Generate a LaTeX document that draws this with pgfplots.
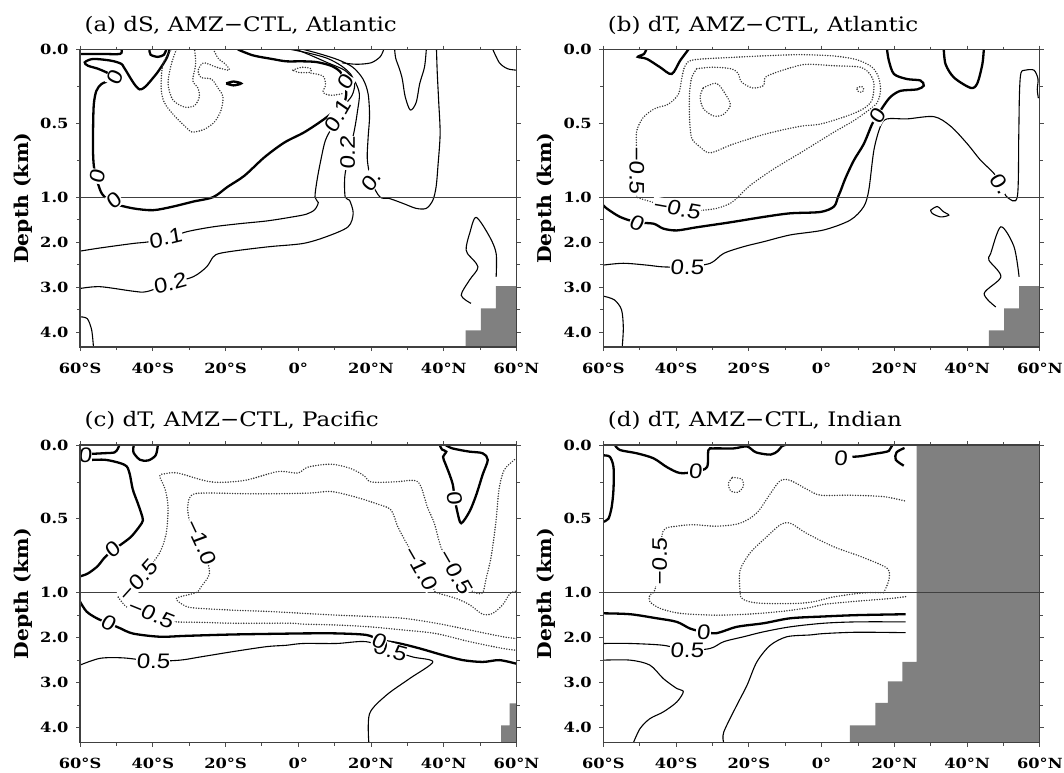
\documentclass[border=0pt]{standalone}
\usepackage{fontspec}
\setmainfont{DejaVu Serif}[FakeStretch=1.07]
\newfontfamily\titlefont{DejaVu Serif}[FakeStretch=1.15]
\newfontfamily\tickfont{DejaVu Serif}[FakeStretch=1.16]
\newfontfamily\clfont{Liberation Sans}[FakeStretch=1.15, FakeSlant=0.08]
\usepackage{pgfplots}
\pgfplotsset{compat=1.18}
\tikzset{clab/.style={font=\clfont\fontsize{21}{23}\selectfont, fill=white, inner sep=0.5pt}}
\pgfplotsset{
  panel/.style={
    scale only axis, width=436.5pt, height=297.5pt,
    xmin=-60, xmax=60, ymin=0, ymax=4.33, y dir=reverse,
    y coord trafo/.code={\pgfmathparse{min(##1,1)+0.305*max(##1-1,0)}},
    xtick={-60,-40,-20,0,20,40,60},
    xticklabels={60°S,40°S,20°S,0°,20°N,40°N,60°N},
    minor xtick={-50,-30,-10,10,30,50},
    ytick={0,0.5,1,2,3,4},
    yticklabels={0.0,0.5,1.0,2.0,3.0,4.0},
    minor ytick={0.25,0.75,1.5,2.5,3.5},
    tick align=outside, xtick pos=both, ytick pos=both,
    xticklabel pos=left, yticklabel pos=left,
    major tick length=4pt, minor tick length=3pt,
    every tick/.append style={black!70, line width=0.8pt},
    axis line style={black!75, line width=1.3pt},
    axis on top=true,
    tick label style={font=\tickfont\bfseries\fontsize{14}{16}\selectfont},
    xticklabel style={yshift=-8pt},
    yticklabel style={xshift=-4pt},
    ylabel={Depth (km)},
    ylabel style={at={(axis description cs:-0.1306,0.5)}, anchor=center, font=\bfseries\fontsize{19}{21}\selectfont},
    every axis title shift=0pt,
    title style={at={(axis description cs:0,1)}, anchor=base west, yshift=18.5pt, xshift=1pt, font=\titlefont\fontsize{20}{22}\selectfont},
  },
  thk/.style={black, line width=2.3pt, smooth, tension=0.5, no markers},
  thn/.style={black, line width=1.1pt, smooth, tension=0.5, no markers},
  dtd/.style={black!80, line width=1.6pt, line cap=round, dash pattern=on 0pt off 2.6pt, smooth, tension=0.5, no markers},
  land/.style={fill=gray, draw=none, no markers},
  oneline/.style={black!75, line width=1.2pt, no markers},
}
\begin{document}
\begin{tikzpicture}
\useasboundingbox (0pt,0pt) rectangle (1064pt,-772pt);

% ---------------- (a) ----------------
\begin{axis}[panel, at={(80pt,-49.5pt)}, anchor=north west, title={(a) dS, AMZ−CTL, Atlantic}]
\addplot[land] coordinates {(46,4.33)(46,3.96)(50.2,3.96)(50.2,3.47)(54.3,3.47)(54.3,2.98)(60,2.98)(60,4.33)};
\addplot[thk] coordinates {(-16.6,0)(-12.4,0.04)(-7,0.065)(-3.3,0.08)(1,0.08)(5,0.085)(9,0.11)(11.5,0.15)(13,0.22)(13.2,0.30)(12.7,0.36)(11.8,0.38)(7.2,0.47)(1.7,0.56)(-3.8,0.63)(-9.3,0.73)(-14.8,0.855)(-19.4,0.93)(-23.4,1.0)(-28.9,1.10)(-34.4,1.21)(-39.9,1.29)(-45.4,1.25)(-50.8,1.14)(-53.2,1.0)(-54.5,0.95)(-56,0.82)(-56.4,0.71)(-56.4,0.53)(-56.2,0.37)(-55.5,0.28)(-54.1,0.234)(-51.9,0.21)(-50.5,0.19)};
\addplot[thk] coordinates {(-50.5,0.19)(-52.3,0.16)(-55.1,0.13)(-57.8,0.11)(-58.7,0.087)(-56.4,0.064)(-51.4,0.076)(-48.6,0.098)(-47.7,0.13)(-43.6,0.27)(-39.5,0.18)(-36.3,0.064)(-35.4,0)};
\addplot[thk] coordinates {(-60,0.03)(-54,0.03)(-49,0.03)(-48.6,0)};
\addplot[thk] coordinates {(-40.9,0)(-40.6,0.035)(-38.6,0.05)(-36.9,0.035)(-36.3,0)};
\addplot[thk] coordinates {(-19.8,0.23)(-17.8,0.217)(-15.7,0.23)(-17.8,0.243)(-19.8,0.23)};
\addplot[thn] coordinates {(-2,0)(3,0.025)(8,0.06)(11.8,0.11)(14.5,0.17)(15.5,0.24)(14.8,0.31)(13,0.37)(11.2,0.44)(9.2,0.53)(7.4,0.62)(6.2,0.75)(5.2,0.88)(4.6,1.0)(5.5,1.12)(4.5,1.28)(2.2,1.38)(-2.3,1.45)(-8.7,1.53)(-16.1,1.59)(-23.4,1.66)(-30.7,1.77)(-36.5,1.93)(-41.7,2.0)(-45.4,2.03)(-54.5,2.13)(-60,2.2)};
\addplot[thn] coordinates {(-0.5,0)(3.5,0.04)(8.1,0.09)(12.7,0.14)(15.4,0.21)(16.8,0.30)(16.3,0.415)(15.4,0.55)(14,0.7)(12.8,0.86)(12.9,1.0)(14.1,1.07)(15.1,1.36)(13.7,1.66)(7.7,1.88)(1.3,2.03)(-7.8,2.10)(-16.1,2.18)(-21.6,2.25)(-23.4,2.33)(-25.2,2.55)(-28.9,2.77)(-35.3,2.92)(-41.7,3.10)(-45.4,3.09)(-54.5,2.99)(-60,3.03)};
\addplot[thn] coordinates {(1.5,0)(6,0.03)(11,0.07)(15,0.12)(17.8,0.2)(19.2,0.3)(19.6,0.45)(19.2,0.6)(19,0.75)(20.2,0.9)(22.5,1.0)(25,1.03)(28.8,1.14)(32.4,1.25)(35.2,1.25)(37,1.07)(37.9,0.93)(38.4,0.79)(39,0.57)(38.6,0.35)(38.2,0.15)(38,0)};
\addplot[thn] coordinates {(12,0.09)(16,0.1)(20,0.09)(22.5,0.05)(23.5,0)};
\addplot[thn] coordinates {(26.5,0)(26.8,0.06)(27.8,0.13)(28.6,0.2)(29.4,0.32)(30.8,0.41)(32.4,0.36)(33.4,0.23)(34.7,0.12)(35.2,0)};
\addplot[thn] coordinates {(53.5,0)(55.3,0.09)(57.5,0.13)(60,0.14)};
\addplot[thn] coordinates {(47.5,3.36)(44.8,3.18)(47.1,2.84)(49.4,2.55)(46.5,2.25)(46.2,2.10)(47.1,1.81)(48.9,1.45)(52.6,1.88)(54.4,2.25)(54.4,2.77)};
\addplot[thn] coordinates {(-60,3.66)(-58,3.70)(-56.8,3.95)(-56.3,4.33)};
\addplot[dtd] coordinates {(-34.9,0)(-37.2,0.1)(-37.7,0.26)(-36.8,0.36)(-34,0.45)(-30.3,0.54)(-29,0.56)(-25.8,0.54)(-23,0.49)(-21.2,0.41)(-20.7,0.32)(-22.1,0.26)(-23.9,0.2)(-26.7,0.19)(-27.5,0.14)(-26,0.09)(-22.5,0.12)(-19,0.14)(-20,0.1)(-22,0.06)(-23.3,0)};
\addplot[dtd] coordinates {(-33.5,0)(-34.9,0.1)(-35.8,0.23)(-34.5,0.34)(-31.3,0.39)(-28.5,0.38)(-27.2,0.32)(-27.6,0.26)(-29,0.21)(-28.2,0.1)(-28.5,0)};
\addplot[dtd] coordinates {(-1.5,0.14)(1,0.12)(3.5,0.13)(3,0.155)(0,0.155)(-1.5,0.14)};
\addplot[dtd] coordinates {(3.5,0.16)(6.8,0.18)(7.5,0.24)(6.8,0.29)(9,0.31)(12,0.30)};
\addplot[oneline] coordinates {(-60,1)(60,1)};
\node[clab, rotate=60] at (axis cs:13.1,0.22) {0};
\node[clab, rotate=60] at (axis cs:10.8,0.45) {0.1};
\node[clab, rotate=90] at (axis cs:13.6,0.70) {0.2};
\node[clab, rotate=55] at (axis cs:20.0,0.89) {0.};
\node[clab, rotate=70] at (axis cs:-50.5,0.19) {0};
\node[clab, rotate=80] at (axis cs:-55.2,0.86) {0};
\node[clab, rotate=40] at (axis cs:-50.6,1.08) {0};
\node[clab, rotate=14] at (axis cs:-36.5,1.91) {0.1};
\node[clab, rotate=15] at (axis cs:-35.3,2.92) {0.2};
\end{axis}

% ---------------- (b) ----------------
\begin{axis}[panel, at={(603.3pt,-49.5pt)}, anchor=north west, title={(b) dT, AMZ−CTL, Atlantic}]
\addplot[land] coordinates {(46,4.33)(46,3.96)(50.2,3.96)(50.2,3.47)(54.3,3.47)(54.3,2.98)(60,2.98)(60,4.33)};
\addplot[thk] coordinates {(-48.2,0)(-48.8,0.03)(-50.5,0.05)(-48,0.064)(-44.4,0.12)(-41.2,0.166)(-38.9,0.076)(-36.6,0)};
\addplot[thk] coordinates {(18,0)(18.5,0.075)(19.9,0.166)(23.5,0.2)(27.2,0.21)(28.1,0.245)(26.3,0.27)(21.7,0.28)(19,0.32)(17.1,0.38)(15.3,0.45)(13.9,0.505)(11.6,0.64)(8.9,0.75)(6.6,0.87)(5.2,0.96)(4.5,1.0)(3.4,1.21)(-0.3,1.33)(-8.6,1.36)(-15.9,1.44)(-25.1,1.56)(-34.3,1.67)(-39.8,1.74)(-43.5,1.70)(-46.2,1.59)(-50.8,1.56)(-55.4,1.44)(-59.1,1.25)(-60,1.18)};
\addplot[thk] coordinates {(33.6,0)(34.1,0.1)(36.4,0.19)(41,0.26)(42.8,0.23)(44.2,0.1)(44.6,0)};
\addplot[thn] coordinates {(-60,2.51)(-54.5,2.47)(-48.1,2.51)(-43.5,2.55)(-37,2.55)(-30.6,2.47)(-26.9,2.25)(-21.4,2.10)(-15.9,1.99)(-8.6,1.84)(0.6,1.73)(7.9,1.51)(11.6,1.21)(13,0.95)(14.4,0.68)(16.2,0.52)(18,0.47)(23.5,0.47)(30.9,0.455)(35.5,0.52)(40.1,0.64)(43.7,0.75)(47.4,0.84)(49.5,0.93)(51,1.0)(53.8,1.0)(54.2,0.6)(54.4,0.3)(54.8,0.16)(56,0.14)(58.4,0.14)(59.5,0.2)(59.3,0.27)(59.6,0.33)};
\addplot[thn] coordinates {(30,1.29)(31.8,1.21)(33.6,1.33)(35,1.40)(32.7,1.44)(30.4,1.36)(30,1.29)};
\addplot[thn] coordinates {(47.9,3.44)(44.7,3.14)(49.3,2.77)(46,2.4)(46.5,2.25)(49.3,1.66)(52.9,2.10)(54.3,2.77)};
\addplot[thn] coordinates {(-60,3.2)(-57,3.28)(-55,3.5)(-54.5,3.9)(-54.8,4.33)};
\addplot[dtd] coordinates {(-50.8,1.0)(-50.9,0.66)(-50.8,0.55)(-49,0.46)(-45.8,0.40)(-42.1,0.37)(-39.3,0.30)(-38.4,0.19)(-37.5,0.11)(-35.2,0.07)(-24.2,0.053)(-15,0.042)(-5.8,0.035)(3.4,0.044)(9.8,0.07)(13.9,0.12)(15.7,0.19)(16.2,0.28)(15.3,0.36)(13,0.41)(9,0.48)(3.4,0.56)(-1.2,0.63)(-5.8,0.70)(-13.2,0.81)(-19.6,0.92)(-23,1.0)(-25.1,1.14)(-28.8,1.25)(-32.5,1.29)(-34.3,1.30)(-39.8,1.27)(-45.8,1.13)(-49.9,1.03)(-50.8,1.0)};
\addplot[dtd] coordinates {(-34.3,0.13)(-30,0.12)(-25,0.13)(-23,0.16)(-22,0.22)(-19,0.26)(-16,0.245)(-15.5,0.19)(-13,0.16)(-8,0.12)(-4,0.1)(3.4,0.11)(10.7,0.12)(13.4,0.17)(14.4,0.23)(13.9,0.34)(11.6,0.40)(7,0.45)(-0.3,0.505)(-5.8,0.52)(-15,0.57)(-24.2,0.64)(-30.6,0.70)(-33.4,0.66)(-35.7,0.6)(-36.3,0.46)(-36.3,0.30)(-35.7,0.19)(-34.3,0.13)};
\addplot[dtd] coordinates {(-32.5,0.26)(-28.8,0.23)(-26,0.32)(-25.1,0.38)(-27,0.44)(-29.7,0.45)(-32.5,0.40)(-33.4,0.32)(-32.5,0.26)};
\addplot[dtd] coordinates {(9.8,0.26)(11,0.25)(11.6,0.27)(11,0.29)(9.8,0.28)(9.8,0.26)};
\addplot[oneline] coordinates {(-60,1)(60,1)};
\node[clab, rotate=-90] at (axis cs:-50.8,0.82) {−0.5};
\node[clab, rotate=-10] at (axis cs:-39.8,1.25) {−0.5};
\node[clab, rotate=-20] at (axis cs:-50.8,1.58) {0};
\node[clab] at (axis cs:-37,2.55) {0.5};
\node[clab, rotate=60] at (axis cs:15.3,0.45) {0};
\node[clab, rotate=-55] at (axis cs:49.2,0.91) {0.};
\end{axis}

% ---------------- (c) ----------------
\begin{axis}[panel, at={(80pt,-445pt)}, anchor=north west, title={(c) dT, AMZ−CTL, Pacific}]
\addplot[land] coordinates {(55.8,4.33)(55.8,3.95)(58.1,3.95)(58.1,3.46)(60,3.46)(60,4.33)};
\addplot[thk] coordinates {(-56.8,0.06)(-53,0.055)(-50.5,0.05)(-49.6,0.025)(-49.2,0)};
\addplot[thk] coordinates {(-45.2,0)(-45.3,0.05)(-43.5,0.1)(-41.3,0.105)(-39.2,0.07)(-38.6,0)};
\addplot[thk] coordinates {(-60,0.106)(-53.2,0.10)(-47.7,0.135)(-46.4,0.19)(-45.5,0.30)(-44.1,0.395)(-43.2,0.46)(-42.7,0.51)(-43.6,0.55)(-45.9,0.62)(-48.5,0.67)(-50.9,0.71)(-53.5,0.77)(-55.1,0.82)(-57.8,0.87)(-60,0.89)};
\addplot[thk] coordinates {(-60,1.2)(-58.2,1.42)(-55.4,1.57)(-52.2,1.68)(-49,1.79)(-45.4,1.91)(-38,1.98)(-30.7,1.96)(-17.9,1.93)(-2.3,1.91)(1.3,1.906)(10.5,1.906)(18.7,1.94)(22.4,2.05)(27.9,2.13)(33.4,2.24)(39.8,2.39)(45.3,2.50)(50.7,2.54)(55.3,2.50)(60,2.58)};
\addplot[thk] coordinates {(38.9,0)(39.5,0.03)(40.7,0.045)(39.8,0.08)(40.5,0.13)(41.6,0.2)(42.5,0.27)(43,0.36)(43.8,0.46)(44.8,0.53)(47.1,0.45)(48.9,0.34)(50.7,0.2)(52.1,0.10)(50.7,0.056)(47.1,0.045)(44.5,0.034)(42,0.02)(40.5,0)};
\addplot[thn] coordinates {(-60,2.61)(-54.5,2.46)(-48.1,2.45)(-39.9,2.52)(-32.5,2.50)(-27,2.43)(-17.9,2.31)(-8.7,2.2)(-3.3,2.17)(1.3,2.13)(10.5,2.13)(18.7,2.09)(25.5,2.28)(31.5,2.43)(37,2.54)(30.6,2.91)(24.2,3.28)(19.6,3.69)(19.4,4.33)};
\addplot[dtd] coordinates {(-49.5,1.1)(-47.5,1.0)(-45.3,0.88)(-41,0.82)(-38.1,0.73)(-36.3,0.6)(-35.8,0.42)(-36.6,0.30)(-38.1,0.21)(-36.7,0.195)(-33.1,0.19)(-23.9,0.25)(-14.8,0.24)(-5.6,0.18)(-0.1,0.19)(2.6,0.15)(9,0.13)(14.5,0.16)(18.2,0.21)(20,0.25)(26.4,0.25)(31.9,0.24)(33.7,0.28)(35.5,0.42)(37.4,0.53)(39.2,0.69)(41.5,0.80)(43.5,0.87)(46,0.95)(48.5,1.0)(50.7,1.0)(51.6,0.91)(53,0.76)(54.3,0.53)(55.2,0.3)(56.6,0.17)(59.4,0.10)(60,0.09)};
\addplot[dtd] coordinates {(60,2.02)(56.2,1.98)(47.1,1.83)(37.9,1.68)(28.8,1.57)(19.6,1.53)(10.5,1.50)(1.3,1.46)(-7.8,1.42)(-17.9,1.39)(-27,1.35)(-30.7,1.31)(-33.5,1.13)(-28.1,1.0)(-26.7,0.96)(-24.4,0.87)(-25.5,0.75)(-27.5,0.62)(-29.9,0.51)(-30.4,0.42)(-29.9,0.36)(-28.5,0.33)(-23.9,0.325)(-14.8,0.33)(-5.6,0.33)(3.5,0.325)(9,0.315)(15.4,0.35)(21.8,0.40)(25.5,0.44)(27.3,0.55)(29.2,0.64)(31,0.72)(34,0.87)(37.4,0.98)(38,1.0)(43.4,1.13)(47.1,1.27)(50.7,1.48)(53.5,1.46)(56.2,1.27)(57.6,1.09)(58.5,1.0)(60,0.99)};
\addplot[dtd] coordinates {(-49.5,1.1)(-47.5,1.3)(-45,1.4)(-41.2,1.48)(-37,1.6)(-33.5,1.65)(-27,1.66)(-17.9,1.68)(-2.3,1.68)(1.3,1.70)(10.5,1.72)(19.6,1.76)(28.8,1.83)(37.9,1.91)(47.1,2.09)(56.2,2.24)(60,2.28)};
\addplot[oneline] coordinates {(-60,1)(60,1)};
\node[clab] at (axis cs:-58.6,0.07) {0};
\node[clab, rotate=42] at (axis cs:-50.9,0.71) {0};
\node[clab, rotate=48] at (axis cs:-44.0,0.92) {−0.5};
\node[clab, rotate=-65] at (axis cs:-26.7,0.655) {−1.0};
\node[clab, rotate=-60] at (axis cs:33.7,0.835) {−1.0};
\node[clab, rotate=-60] at (axis cs:43.2,0.86) {−0.5};
\node[clab, rotate=-80] at (axis cs:42.9,0.36) {0};
\node[clab, rotate=-22] at (axis cs:-40.5,1.47) {−0.5};
\node[clab, rotate=-25] at (axis cs:-52.2,1.68) {0};
\node[clab, rotate=-15] at (axis cs:25.2,2.28) {0.5};
\node[clab, rotate=-20] at (axis cs:22.2,2.08) {0};
\node[clab] at (axis cs:-39.9,2.52) {0.5};
\end{axis}

% ---------------- (d) ----------------
\begin{axis}[panel, at={(603.3pt,-445pt)}, anchor=north west, title={(d) dT, AMZ−CTL, Indian}]
\addplot[land] coordinates {(7.8,4.33)(7.8,3.95)(14.8,3.95)(14.8,3.45)(18.2,3.45)(18.2,2.97)(22.2,2.97)(22.2,2.54)(26.1,2.54)(26.1,0)(60,0)(60,4.33)};
\addplot[thk] coordinates {(-60,0.07)(-58.2,0.08)(-57.2,0.15)(-57.2,0.3)(-57.7,0.42)(-58.6,0.5)(-60,0.52)};
\addplot[thk] coordinates {(-56.8,0)(-55.4,0.034)(-50.8,0.056)(-46.2,0.09)(-42.5,0.15)(-38.9,0.19)(-34.7,0.18)(-31.5,0.15)(-31.1,0.034)(-29.7,0.023)(-24.2,0.023)(-20.5,0.01)(-18,0.05)(-14,0.065)(-12,0.04)(-11,0.01)(-10,0)};
\addplot[thk] coordinates {(8.5,0.08)(11,0.075)(14.4,0.06)(17,0.05)(18.5,0.04)(19,0.02)(19.5,0)};
\addplot[thk] coordinates {(22.8,0.02)(20.6,0.05)(20.4,0.1)(22.6,0.14)};
\addplot[thk] coordinates {(-60,1.46)(-52.6,1.48)(-45.3,1.57)(-39.8,1.65)(-36.1,1.8)(-32.5,1.87)(-28.8,1.9)(-23.3,1.76)(-15.9,1.68)(-8.6,1.57)(0.6,1.53)(9.8,1.50)(23.1,1.48)};
\addplot[thn] coordinates {(-60,2.13)(-52.6,2.13)(-43.5,2.17)(-37,2.28)(-30.6,2.24)(-26.9,2.09)(-21.4,1.98)(-15.9,1.87)(-8.6,1.76)(0.6,1.68)(9.8,1.65)(23.1,1.65)};
\addplot[thn] coordinates {(-26.9,4.33)(-26.9,4.1)(-23.3,3.5)(-20.5,3.06)(-17.8,2.54)(-14.1,2.17)(-9.5,1.98)(-3.1,1.94)(0.6,1.91)(9.8,1.88)(23.1,1.89)};
\addplot[thn] coordinates {(-60,2.5)(-52.6,2.5)(-47.2,2.61)(-43.5,2.91)(-39.8,3.13)(-38,3.2)(-39.8,3.43)(-43.5,3.65)(-47.2,3.8)(-49.9,4.02)(-51.7,4.33)};
\addplot[dtd] coordinates {(-24.5,0.22)(-22,0.23)(-21.5,0.28)(-23,0.32)(-25,0.31)(-25.6,0.26)(-24.5,0.22)};
\addplot[dtd] coordinates {(23.1,1.09)(19,1.13)(9.8,1.19)(0.6,1.26)(-3.1,1.33)(-11.3,1.42)(-20.5,1.48)(-29.7,1.50)(-38.9,1.46)(-44.4,1.35)(-47.2,1.2)(-47.2,1.05)(-45.8,0.98)(-44.5,0.77)(-43.5,0.58)(-39.8,0.55)(-35.2,0.54)(-28.8,0.55)(-22.4,0.53)(-17.8,0.46)(-14.1,0.33)(-11.3,0.24)(-8.6,0.24)(-4,0.30)(-0.3,0.34)(7.9,0.34)(17.1,0.35)(23.1,0.38)};
\addplot[dtd] coordinates {(17.1,1.0)(18.5,0.914)(18,0.835)(10.7,0.755)(3.4,0.69)(-4,0.60)(-8.6,0.53)(-11.3,0.54)(-15,0.62)(-19.6,0.73)(-22.4,0.85)(-22.4,1.0)(-22,1.12)(-20,1.2)(-15.9,1.24)(-6.8,1.24)(-2,1.2)(3,1.1)(9.8,1.02)(13,1.0)(17.1,1.0)};
\addplot[oneline] coordinates {(-60,1)(60,1)};
\node[clab] at (axis cs:-34.7,0.18) {0};
\node[clab] at (axis cs:5.2,0.09) {0};
\node[clab, rotate=90] at (axis cs:-44.5,0.79) {−0.5};
\node[clab] at (axis cs:-32.5,1.87) {0};
\node[clab] at (axis cs:-37,2.28) {0.5};
\end{axis}
\end{tikzpicture}
\end{document}
